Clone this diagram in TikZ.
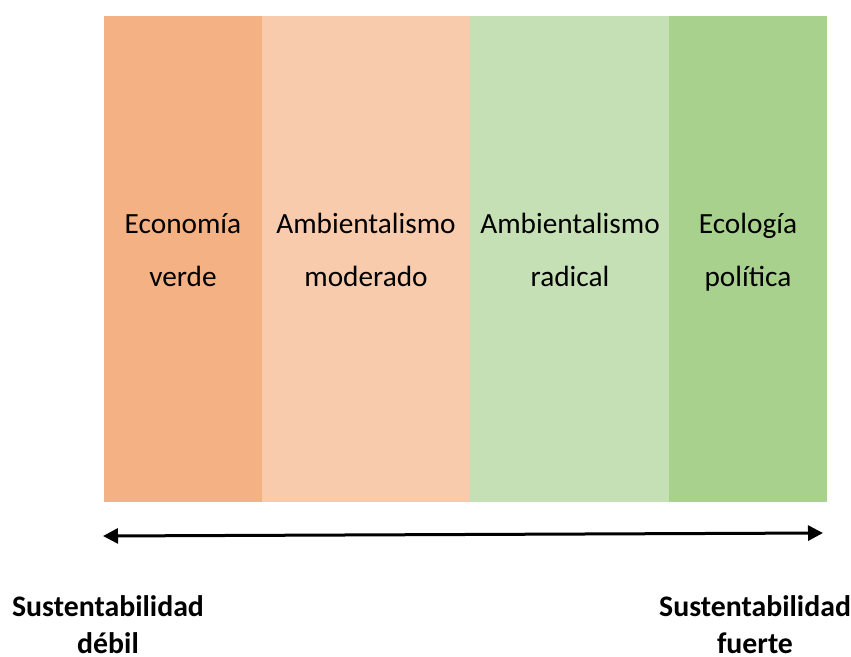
\documentclass[tikz,border=0pt]{standalone}
\usepackage{fontspec}
\setmainfont{Carlito}
\usetikzlibrary{arrows.meta}
\definecolor{c1}{HTML}{F4B183}
\definecolor{c2}{HTML}{F8CBAD}
\definecolor{c3}{HTML}{C5E0B4}
\definecolor{c4}{HTML}{A9D18E}
\newcommand{\tallrule}{\rule{0pt}{24.5pt}}
\tikzset{
  lab/.style={align=center, inner sep=0pt, font=\fontsize{29.3}{53}\selectfont},
  endlab/.style={align=center, inner sep=0pt, font=\fontsize{29.8}{37}\selectfont\bfseries},
}
\begin{document}
\begin{tikzpicture}[x=1pt,y=-1pt]
\useasboundingbox (0,0) rectangle (851,656);
\fill[c1] (104,16) rectangle (262,502);
\fill[c2] (262,16) rectangle (469,502);
\fill[c3] (469,16) rectangle (669,502);
\fill[c4] (669,16) rectangle (827,502);
\node[lab] (a) at (183,249) {\strut Economía\\\strut verde};
\node[lab] (b) at (366,249) {\strut Ambientalismo\\\strut moderado};
\node[lab] (c) at (570,249) {\strut Ambientalismo\\\strut radical};
\node[lab] (d) at (748,249) {\strut Ecología\\\strut política};
\coordinate (l) at (103,536);
\coordinate (r) at (823,533);
\draw[line width=3pt, {Triangle[length=15pt,width=15pt]}-{Triangle[length=15pt,width=15pt]}] (l) -- (r);
\node[endlab] (e) at (108,623) {\tallrule Sustentabilidad\\\tallrule débil};
\node[endlab] (f) at (755,623) {\tallrule Sustentabilidad\\\tallrule fuerte};
\end{tikzpicture}
\end{document}
